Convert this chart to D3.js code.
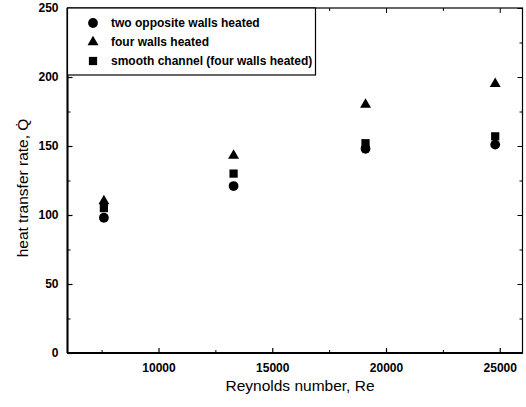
<!DOCTYPE html>
<html><head><meta charset="utf-8">
<script src="https://cdn.jsdelivr.net/npm/d3@7/dist/d3.min.js"></script>
<style>body{margin:0;background:#fff}svg{display:block}text{font-family:"Liberation Sans",Arial,sans-serif;fill:#000}</style>
</head><body><svg id="c" width="526" height="407"></svg>
<script>
const reynolds = [7600, 13300, 19100, 24800];
const twoWalls = [98, 121, 148, 151];
const fourWalls = [110, 143, 180, 195];
const smooth = [105, 130, 152, 157];
const seriesNames = ["two opposite walls heated", "four walls heated", "smooth channel (four walls heated)"];
const xTicks = [10000, 15000, 20000, 25000];
const yTicks = [0, 50, 100, 150, 200, 250];

const svg = d3.select("#c");
const L = 67.5, R = 522.5, T = 8, B = 353;
const x = d3.scaleLinear().domain([6000, 26000]).range([L, R]);
const y = d3.scaleLinear().domain([0, 250]).range([B, T]);

const xMinor = d3.range(7500, 26000, 5000);
const yMinor = d3.range(25, 250, 50);

const g = svg.append("g");
g.append("rect").attr("x", L).attr("y", T).attr("width", R - L).attr("height", B - T)
  .attr("fill", "none").attr("stroke", "#000").attr("stroke-width", 1.2);
g.append("line").attr("x1", L).attr("x2", R).attr("y1", B).attr("y2", B).attr("stroke", "#000").attr("stroke-width", 2);
g.append("line").attr("x1", L).attr("x2", L).attr("y1", T).attr("y2", B).attr("stroke", "#000").attr("stroke-width", 2);

const bottom = d3.axisBottom(x).tickValues(xTicks).tickSize(-5).tickPadding(10).tickFormat(d3.format("d"));
const left = d3.axisLeft(y).tickValues(yTicks).tickSize(-5).tickPadding(9);
const gb = g.append("g").attr("transform", `translate(0,${B})`).call(bottom);
const gl = g.append("g").attr("transform", `translate(${L},0)`).call(left);
[gb, gl].forEach(a => { a.select(".domain").remove(); a.selectAll("text").attr("font-size", 12).attr("font-weight", "bold").style("font-family", '"Liberation Sans",Arial,sans-serif'); a.selectAll("line").attr("stroke-width", 1.2); });
g.append("g").attr("transform", `translate(0,${B})`).call(d3.axisBottom(x).tickValues(xMinor).tickSize(-3).tickFormat("")).call(a => { a.select(".domain").remove(); });
g.append("g").attr("transform", `translate(${L},0)`).call(d3.axisLeft(y).tickValues(yMinor).tickSize(-3).tickFormat("")).call(a => { a.select(".domain").remove(); });
g.append("g").attr("transform", `translate(0,${T})`).call(d3.axisTop(x).tickValues(xTicks).tickSize(-5).tickFormat("")).call(a => a.select(".domain").remove());
g.append("g").attr("transform", `translate(0,${T})`).call(d3.axisTop(x).tickValues(xMinor).tickSize(-3).tickFormat("")).call(a => a.select(".domain").remove());
g.append("g").attr("transform", `translate(${R},0)`).call(d3.axisRight(y).tickValues(yTicks).tickSize(-5).tickFormat("")).call(a => a.select(".domain").remove());
g.append("g").attr("transform", `translate(${R},0)`).call(d3.axisRight(y).tickValues(yMinor).tickSize(-3).tickFormat("")).call(a => a.select(".domain").remove());

const sym = [d3.symbolCircle, d3.symbolTriangle, d3.symbolSquare];
const sizes = [75, 52, 68];
const data = [twoWalls, fourWalls, smooth];
data.forEach((vals, i) => {
  g.append("g").selectAll("path").data(vals).join("path")
    .attr("d", d3.symbol(sym[i], sizes[i]))
    .attr("transform", (d, j) => `translate(${x(reynolds[j])},${y(d)})`)
    .attr("fill", "#000");
});

const lg = g.append("g");
lg.append("rect").attr("x", L).attr("y", T).attr("width", 248).attr("height", 67)
  .attr("fill", "#fff").attr("stroke", "#000").attr("stroke-width", 1.2);
seriesNames.forEach((n, i) => {
  const yy = T + 15 + i * 19;
  lg.append("path").attr("d", d3.symbol(sym[i], sizes[i])).attr("transform", `translate(93,${yy})`).attr("fill", "#000");
  lg.append("text").attr("x", 111).attr("y", yy + 4).attr("font-size", 12).attr("font-weight", "bold").text(n);
});

svg.append("text").attr("x", 300).attr("y", 391).attr("text-anchor", "middle").attr("font-size", 15.5).text("Reynolds number, Re");
svg.append("text").attr("transform", `translate(28,188) rotate(-90)`).attr("text-anchor", "middle").attr("font-size", 15.5).text("heat transfer rate, Q\u0307");
</script></body></html>
